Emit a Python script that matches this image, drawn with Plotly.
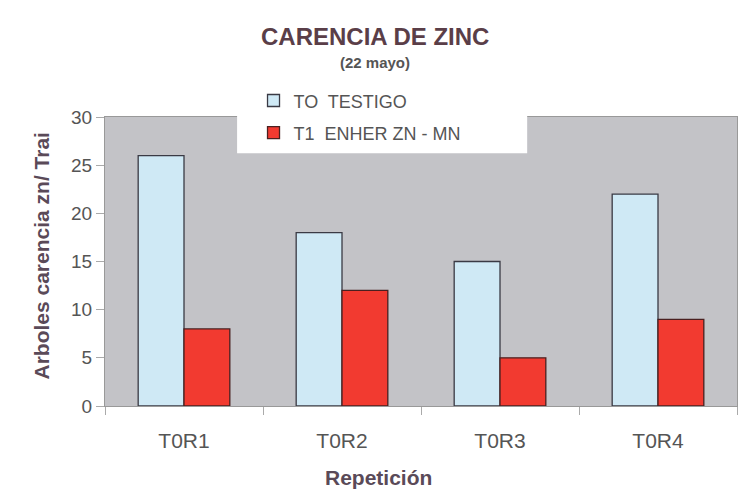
import plotly.graph_objects as go

categories = ["T0R1", "T0R2", "T0R3", "T0R4"]
testigo = [26, 18, 15, 22]
enher = [8, 12, 5, 9]
series_names = ["TO  TESTIGO", "T1  ENHER ZN - MN"]
y_ticks = [0, 5, 10, 15, 20, 25, 30]

fig = go.Figure()
fig.add_trace(go.Bar(x=categories, y=testigo, name=series_names[0],
                     marker=dict(color="#cfe9f5", line=dict(color="#3a3a44", width=1.3)),
                     legend="legend"))
fig.add_trace(go.Bar(x=categories, y=enher, name=series_names[1],
                     marker=dict(color="#f23a30", line=dict(color="#4a2020", width=1.3)),
                     legend="legend2"))

font_family = "Liberation Sans, Arial, sans-serif"

fig.update_layout(
    width=745, height=491,
    margin=dict(l=105, r=8, t=117, b=85, autoexpand=False),
    paper_bgcolor="white",
    plot_bgcolor="#c3c3c7",
    barmode="group",
    bargap=0.42,
    bargroupgap=0,
    font=dict(family=font_family, color="#555"),
    showlegend=True,
    legend=dict(x=0.235, y=1.12, xanchor="left", yanchor="top",
                bgcolor="rgba(0,0,0,0)", font=dict(size=18, color="#555"),
                itemclick=False),
    legend2=dict(x=0.235, y=1.009, xanchor="left", yanchor="top",
                 bgcolor="rgba(0,0,0,0)", font=dict(size=18, color="#555"),
                 itemclick=False),
    shapes=[dict(type="rect", xref="paper", yref="paper",
                 x0=0.209, x1=0.668, y0=0.875, y1=1.128,
                 fillcolor="white", line=dict(width=0), layer="above")],
    annotations=[
        dict(text="<b>CARENCIA DE ZINC</b>", xref="paper", yref="paper",
             x=0.427, y=1.277, xanchor="center", yanchor="middle", showarrow=False,
             font=dict(size=24, color="#5a3e48", family=font_family)),
        dict(text="<b>(22 mayo)</b>", xref="paper", yref="paper",
             x=0.427, y=1.19, xanchor="center", yanchor="middle", showarrow=False,
             font=dict(size=15, color="#555", family=font_family)),
        dict(text="<b>Repetición</b>", xref="paper", yref="paper",
             x=0.432, y=-0.248, xanchor="center", yanchor="middle", showarrow=False,
             font=dict(size=21, color="#5a4a58", family=font_family)),
        dict(text="<b>Arboles carencia zn/ Trai</b>", xref="paper", yref="paper",
             x=-0.1, y=0.52, xanchor="center", yanchor="middle", showarrow=False,
             textangle=-90,
             font=dict(size=21, color="#5a4a58", family=font_family)),
    ],
    xaxis=dict(
        tickfont=dict(size=21, color="#555"),
        ticks="outside", ticklen=8, tickcolor="#aaa", tickson="boundaries",
        ticklabelstandoff=16,
        showline=True, linecolor="#999", mirror=True, showgrid=False,
    ),
    yaxis=dict(
        tickvals=y_ticks, range=[0, 30],
        tickfont=dict(size=19, color="#555"),
        ticks="outside", ticklen=8, tickcolor="#aaa",
        showline=True, linecolor="#999", mirror=True, showgrid=False, zeroline=False,
    ),
)

fig.write_html("out.html", config={"displayModeBar": False},
               post_script="document.body.style.margin='0';")
